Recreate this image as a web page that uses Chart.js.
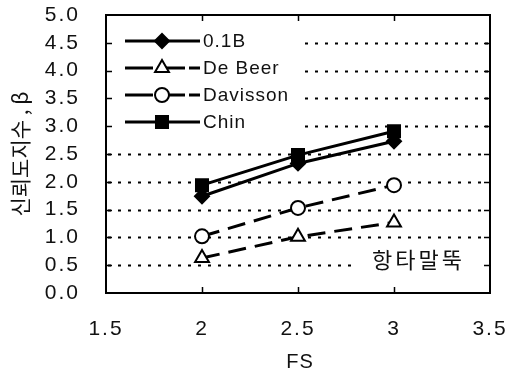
<!DOCTYPE html>
<html>
<head>
<meta charset="utf-8">
<script src="https://cdn.jsdelivr.net/npm/chart.js@4.4.1/dist/chart.umd.min.js"></script>
<style>
  html, body { margin: 0; padding: 0; background: #fff; }
</style>
</head>
<body>
<canvas id="chart" width="511" height="374"></canvas>
<script>
// Data
const fsValues = [2, 2.5, 3];
const beta01B = [1.74, 2.33, 2.73];
const betaDeBeer = [0.63, 1.01, 1.27];
const betaDavisson = [1.02, 1.53, 1.94];
const betaChin = [1.94, 2.48, 2.91];
const seriesNames = ['0.1B', 'De Beer', 'Davisson', 'Chin'];
const xTitle = 'FS';
const yTitle = '신뢰도지수 , β';
const noteText = '항타말뚝';

const FONT = '"Liberation Sans", Arial, sans-serif';
const KFONT = '"Noto Sans CJK KR", "Liberation Sans", sans-serif';
const INK = '#111';

function pts(ys) {
  return fsValues.map((x, i) => ({ x: x, y: ys[i] }));
}

function series(label, ys, style, radius, fill, dash) {
  return {
    label: label,
    data: pts(ys),
    borderColor: '#000',
    borderWidth: 3,
    borderDash: dash,
    pointStyle: style,
    pointRadius: radius,
    pointBorderWidth: 2,
    pointBorderColor: '#000',
    pointBackgroundColor: fill,
    showLine: true,
    fill: false,
    tension: 0
  };
}

const datasets = [
  series(seriesNames[0], beta01B, 'rectRot', 7, '#000', []),
  series(seriesNames[1], betaDeBeer, 'triangle', 8, '#fff', [18, 9]),
  series(seriesNames[2], betaDavisson, 'circle', 7, '#fff', [18, 9]),
  series(seriesNames[3], betaChin, 'rect', 8.5, '#000', [])
];

// legend area (grid lines stop at its right edge, like the original)
const legendBox = { x2: 305, y2: 140 };
const legendRows = [41, 68, 95, 122];

const framePlugin = {
  id: 'frame',
  beforeDraw(chart) {
    chart.ctx.letterSpacing = '2px';
  },
  beforeDatasetsDraw(chart) {
    const { ctx, chartArea: a, scales: { y } } = chart;
    ctx.save();
    ctx.letterSpacing = '0px';
    // dotted grid lines
    ctx.strokeStyle = '#000';
    ctx.lineWidth = 2;
    ctx.setLineDash([3, 7]);
    for (let v = 0.5; v < 5; v += 0.5) {
      const py = Math.round(y.getPixelForValue(v)) + 0.5;
      let xs = a.left + 2;
      if (py < legendBox.y2) xs = legendBox.x2;
      let xe = a.right - 2;
      if (Math.abs(v - 0.5) < 1e-6) xe = 352;
      ctx.beginPath();
      ctx.moveTo(xs, py);
      ctx.lineTo(xe, py);
      ctx.stroke();
    }
    ctx.restore();
  },
  afterDatasetsDraw(chart) {
    const { ctx, chartArea: a, scales: { x, y } } = chart;
    const helpers = Chart.helpers;
    ctx.save();
    ctx.letterSpacing = '0px';

    // frame
    ctx.setLineDash([]);
    ctx.strokeStyle = '#000';
    ctx.lineWidth = 2;
    ctx.strokeRect(a.left, a.top, a.right - a.left, a.bottom - a.top);

    // inner ticks
    ctx.lineWidth = 1.5;
    const tl = 6;
    ctx.beginPath();
    for (let v = 0.5; v < 5; v += 0.5) {
      const py = Math.round(y.getPixelForValue(v)) + 0.5;
      ctx.moveTo(a.left, py); ctx.lineTo(a.left + tl, py);
      ctx.moveTo(a.right, py); ctx.lineTo(a.right - tl, py);
    }
    for (let v = 2; v < 3.5; v += 0.5) {
      const px = Math.round(x.getPixelForValue(v)) + 0.5;
      ctx.moveTo(px, a.bottom); ctx.lineTo(px, a.bottom - tl);
      ctx.moveTo(px, a.top); ctx.lineTo(px, a.top + tl);
    }
    ctx.stroke();

    // legend
    chart.data.datasets.forEach((ds, i) => {
      const ly = legendRows[i];
      ctx.strokeStyle = ds.borderColor;
      ctx.lineWidth = ds.borderWidth;
      ctx.setLineDash(ds.borderDash.length ? [28, 4] : []);
      ctx.beginPath();
      ctx.moveTo(125, ly);
      ctx.lineTo(200, ly);
      ctx.stroke();
      ctx.setLineDash([]);
      ctx.fillStyle = ds.pointBackgroundColor;
      ctx.strokeStyle = ds.pointBorderColor;
      ctx.lineWidth = ds.pointBorderWidth;
      helpers.drawPoint(ctx, {
        pointStyle: ds.pointStyle,
        radius: ds.pointRadius,
        borderWidth: ds.pointBorderWidth,
        rotation: 0
      }, 162, ly);
      ctx.fillStyle = INK;
      ctx.font = '19px ' + FONT;
      ctx.letterSpacing = '1px';
      ctx.textAlign = 'left';
      ctx.textBaseline = 'middle';
      ctx.fillText(ds.label, 203, ly + 1);
      ctx.letterSpacing = '0px';
    });

    // note
    ctx.fillStyle = INK;
    ctx.font = '22px ' + KFONT;
    ctx.letterSpacing = '3px';
    ctx.textAlign = 'left';
    ctx.textBaseline = 'middle';
    ctx.fillText(noteText, 372, 260);

    // axis titles
    ctx.letterSpacing = '1px';
    ctx.font = '20px ' + FONT;
    ctx.textAlign = 'center';
    ctx.fillText(xTitle, 300, 362);

    ctx.translate(20, 154);
    ctx.rotate(-Math.PI / 2);
    ctx.font = '21px ' + KFONT;
    ctx.letterSpacing = '0px';
    ctx.fillText(yTitle, 0, 0);
    ctx.restore();
  }
};

new Chart(document.getElementById('chart'), {
  type: 'scatter',
  data: { datasets: datasets },
  options: {
    responsive: false,
    animation: false,
    layout: { padding: { top: 15, right: 21, left: 0, bottom: 0 } },
    plugins: { legend: { display: false }, tooltip: { enabled: false } },
    scales: {
      x: {
        type: 'linear',
        min: 1.5,
        max: 3.5,
        afterFit(s) {
          s.height = 81;
          s.paddingLeft = 0; s.paddingRight = 0;
          s.paddingTop = 0; s.paddingBottom = 0;
        },
        grid: { display: false },
        border: { display: false },
        ticks: {
          stepSize: 0.5,
          autoSkip: false,
          maxRotation: 0,
          padding: 16,
          color: INK,
          font: { family: FONT, size: 21 },
          callback: v => String(v)
        }
      },
      y: {
        min: 0,
        max: 5,
        afterFit(s) {
          s.width = 106;
          s.paddingLeft = 0; s.paddingRight = 0;
          s.paddingTop = 0; s.paddingBottom = 0;
        },
        grid: { display: false },
        border: { display: false },
        ticks: {
          stepSize: 0.5,
          autoSkip: false,
          padding: 18,
          color: INK,
          font: { family: FONT, size: 21 },
          callback: v => v.toFixed(1)
        }
      }
    }
  },
  plugins: [framePlugin]
});
</script>
</body>
</html>
